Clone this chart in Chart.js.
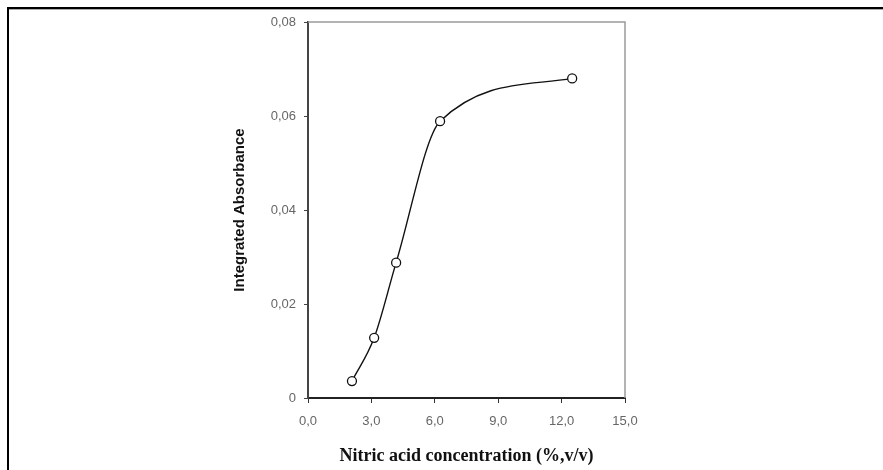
<!DOCTYPE html>
<html>
<head>
<meta charset="utf-8">
<script src="https://cdn.jsdelivr.net/npm/chart.js@4"></script>
<style>
  body { margin: 0; background: #fff; }
  #wrap { position: relative; width: 883px; height: 470px; }
  #frame { position: absolute; left: 7px; top: 7px; right: 0; bottom: 0;
           border-left: 2px solid #000; border-top: 2px solid #000;
           box-shadow: inset 0 1px 0 #aaa; pointer-events: none; }
  canvas { position: absolute; left: 0; top: 0; }
</style>
</head>
<body>
<div id="wrap">
  <canvas id="grafico" width="883" height="470"></canvas>
  <div id="frame"></div>
</div>
<script>
const concentracao = [2.08, 3.13, 4.17, 6.25, 12.5];
const absorbancia = [0.0036, 0.0128, 0.0288, 0.0589, 0.068];
const ticksX = [0, 3, 6, 9, 12, 15];
const ticksY = [0, 0.02, 0.04, 0.06, 0.08];

const pontos = concentracao.map((x, i) => ({ x: x, y: absorbancia[i] }));

const moldura = {
  id: "moldura",
  afterDraw(chart) {
    const { ctx, chartArea: a } = chart;
    ctx.save();
    ctx.strokeStyle = "#9a9a9a";
    ctx.lineWidth = 1.5;
    ctx.beginPath();
    ctx.moveTo(a.left, a.top);
    ctx.lineTo(a.right, a.top);
    ctx.lineTo(a.right, a.bottom);
    ctx.stroke();
    ctx.restore();
  },
};

new Chart(document.getElementById("grafico"), {
  type: "scatter",
  data: {
    datasets: [
      {
        label: "Integrated Absorbance",
        data: pontos,
        showLine: true,
        cubicInterpolationMode: "monotone",
        borderColor: "#111",
        borderWidth: 1.4,
        pointRadius: 4.5,
        pointBorderWidth: 1.3,
        pointBackgroundColor: "#fff",
        pointBorderColor: "#111",
      },
    ],
  },
  options: {
    responsive: false,
    animation: false,
    layout: { padding: { left: 228, right: 258, top: 22, bottom: 0 } },
    plugins: { legend: { display: false }, tooltip: { enabled: false } },
    scales: {
      x: {
        type: "linear",
        min: 0,
        max: 15,
        afterBuildTicks: (s) => { s.ticks = ticksX.map((v) => ({ value: v })); },
        afterFit: (s) => { s.height = 72; },
        grid: { drawOnChartArea: false, drawTicks: true, tickLength: 5, color: "#333" },
        border: { color: "#222", width: 2 },
        ticks: {
          padding: 11,
          color: "#666",
          font: { family: "Liberation Sans", size: 13 },
          callback: (v) => v.toFixed(1).replace(".", ","),
        },
        title: {
          display: true,
          text: "Nitric acid concentration (%,v/v)",
          color: "#111",
          font: { family: "Liberation Serif", size: 18, weight: "bold" },
          padding: { top: 2, bottom: 3 },
        },
      },
      y: {
        min: 0,
        max: 0.08,
        afterBuildTicks: (s) => { s.ticks = ticksY.map((v) => ({ value: v })); },
        afterFit: (s) => { s.width = 80; },
        grid: { drawOnChartArea: false, drawTicks: true, tickLength: 4, color: "#444" },
        border: { color: "#444", width: 2 },
        ticks: {
          padding: 8,
          color: "#666",
          font: { family: "Liberation Sans", size: 13 },
          callback: (v) => (v === 0 ? "0" : v.toFixed(2).replace(".", ",")),
        },
        title: {
          display: true,
          text: "Integrated Absorbance",
          color: "#111",
          font: { family: "Liberation Sans", size: 15, weight: "bold" },
          padding: { top: 3, bottom: 0 },
        },
      },
    },
  },
  plugins: [moldura],
});
</script>
</body>
</html>
